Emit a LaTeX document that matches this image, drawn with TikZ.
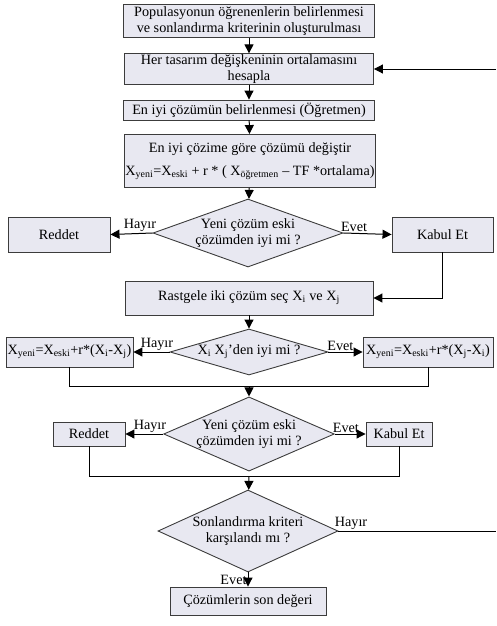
\documentclass[tikz,border=0pt]{standalone}
\usepackage{fontspec}
\setmainfont{Liberation Serif}
\usetikzlibrary{arrows.meta,shapes.geometric,positioning}
\definecolor{boxfill}{RGB}{232,232,241}
\definecolor{edgegray}{RGB}{60,60,60}

\begin{document}
\begin{tikzpicture}[
  x=1pt,y=-1pt,
  font=\fontsize{14.2}{15.5}\selectfont,
  >={Triangle[length=9pt,width=9pt]},
  block/.style={draw=edgegray,line width=.9pt,fill=boxfill,align=center,inner sep=1pt},
  decision/.style={diamond,draw=edgegray,line width=.9pt,fill=boxfill,align=center,inner sep=0pt},
  line/.style={->,line width=1pt,black},
  plainline/.style={line width=1pt,black},
  tag/.style={inner sep=1pt}
]
\useasboundingbox (0,0) rectangle (496,626);

% Initial steps of the teaching phase.
\node[block,minimum width=251pt,minimum height=33pt] (pop) at (249,21)
  {Populasyonun öğrenenlerin belirlenmesi\\ve sonlandırma kriterinin oluşturulması};
\node[block,minimum width=249pt,minimum height=30pt] (ort) at (249,69)
  {Her tasarım değişkeninin ortalamasını\\hesapla};
\node[block,minimum width=251pt,minimum height=20pt] (ogr) at (249,110)
  {En iyi çözümün belirlenmesi (Öğretmen)};
\node[block,minimum width=250pt,minimum height=53pt] (deg) at (250,161)
  {En iyi çözime göre çözümü değiştir\\[7pt]
   X\textsubscript{yeni}=X\textsubscript{eski} + r * ( X\textsubscript{öğretmen} – TF *ortalama)};
\draw[line] (pop) -- (ort);
\draw[line] (ort) -- (ogr);
\draw[line] (ogr) -- (deg);

% First acceptance test.
\node[decision,shape aspect=2.8,minimum width=190pt,minimum height=68pt] (d1) at (248,233)
  {Yeni çözüm eski\\çözümden iyi mi ?};
\node[block,minimum width=102pt,minimum height=35pt] (red1) at (59,234.5) {Reddet};
\node[block,minimum width=101pt,minimum height=35pt] (kab1) at (442.5,234.5) {Kabul Et};
\draw[line] (deg) -- (d1);
\draw[line] (d1.west) -- node[tag,above,pos=.3] {Hayır} (red1.east);
\draw[line] (d1.east) -- node[tag,above,pos=.22] {Evet} (kab1.west);

% Learner phase.
\node[block,minimum width=248pt,minimum height=34pt] (rast) at (249,298)
  {Rastgele iki çözüm seç X\textsubscript{i} ve X\textsubscript{j}};
\draw[line] (kab1.south) |- (rast.east);
\node[decision,shape aspect=3.4,minimum width=158pt,minimum height=46pt,inner sep=-3pt] (d2) at (249,352)
  {X\textsubscript{i} X\textsubscript{j}’den iyi mi ?};
\node[block,minimum width=127pt,minimum height=30pt] (xl) at (69.5,352)
  {X\textsubscript{yeni}=X\textsubscript{eski}+r*(X\textsubscript{i}-X\textsubscript{j})};
\node[block,minimum width=130pt,minimum height=30pt] (xr) at (428,352)
  {X\textsubscript{yeni}=X\textsubscript{eski}+r*(X\textsubscript{j}-X\textsubscript{i})};
\draw[line] (rast) -- (d2);
\draw[line] (d2.west) -- node[tag,above,pos=.35] {Hayır} (xl.east);
\draw[line] (d2.east) -- node[tag,above,pos=.35] {Evet} (xr.west);
\coordinate (m2) at (249,386);
\draw[plainline] (xl.south) |- (m2);
\draw[plainline] (xr.south) |- (m2);

% Second acceptance test.
\node[decision,shape aspect=2.3,minimum width=168pt,minimum height=74pt] (d3) at (249,434)
  {Yeni çözüm eski\\çözümden iyi mi ?};
\node[block,minimum width=72pt,minimum height=24pt] (red2) at (89,434) {Reddet};
\node[block,minimum width=66pt,minimum height=24pt] (kab2) at (399,434) {Kabul Et};
\draw[line] (m2) -- (d3);
\draw[line] (d3.west) -- node[tag,above,pos=.35] {Hayır} (red2.east);
\draw[line] (d3.east) -- node[tag,above,pos=.36] {Evet} (kab2.west);
\coordinate (m3) at (249,476);
\draw[plainline] (red2.south) |- (m3);
\draw[plainline] (kab2.south) |- (m3);

% Stopping criterion and loop back.
\node[decision,shape aspect=2.2,minimum width=180pt,minimum height=82pt] (d4) at (248,531)
  {Sonlandırma kriteri\\karşılandı mı ?};
\node[block,minimum width=156pt,minimum height=28pt] (son) at (248,601)
  {Çözümlerin son değeri};
\draw[line] (m3) -- (d4);
\draw[line] (d4) -- node[tag,left] {Evet} (son);
\coordinate (back1) at (496,69);
\coordinate (back2) at (496,531);
\draw[plainline] (d4.east) -- node[tag,above,pos=.08] {Hayır} (back2);
\draw[line] (back1) -- (ort.east);
\end{tikzpicture}
\end{document}
